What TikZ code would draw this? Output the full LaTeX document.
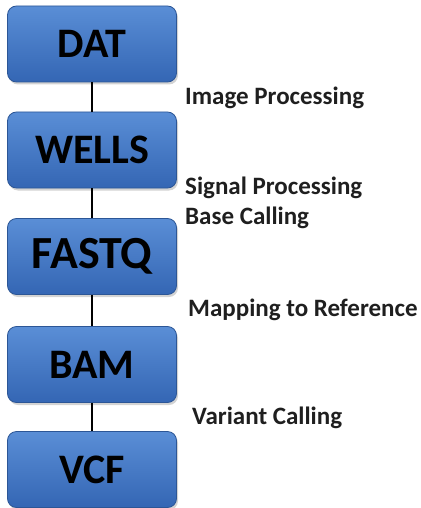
\documentclass[tikz,border=0pt]{standalone}
\usepackage{fontspec}
\setmainfont{Carlito}
\usetikzlibrary{shadows}
\definecolor{boxtop}{RGB}{90,142,214}
\definecolor{boxbot}{RGB}{52,102,180}
\definecolor{boxedge}{RGB}{44,86,150}
\tikzset{
  fmtbox/.style={rectangle, rounded corners=9pt, draw=boxedge, line width=0.8pt,
    top color=boxtop, bottom color=boxbot,
    minimum width=169pt, minimum height=76pt, inner sep=0pt,
    font=\fontsize{42}{42}\selectfont\bfseries, text=black,
    drop shadow={shadow xshift=1.5pt, shadow yshift=-2.5pt, opacity=0.35}},
  bigtext/.style={font=\fontsize{46}{46}\selectfont\bfseries},
  steplabel/.style={anchor=west, inner sep=0pt, align=left,
    font=\fontsize{25}{30}\selectfont\bfseries, text=black!88},
  link/.style={line width=2pt, black}
}
\begin{document}
\begin{tikzpicture}[x=1pt, y=-1pt]
  \useasboundingbox (0,0) rectangle (420,508);
  % file formats of the pipeline
  \node[fmtbox] (dat)   at (92,44)    {DAT};
  \node[fmtbox] (wells) at (92,150)   {WELLS};
  \node[fmtbox, bigtext] (fastq) at (92,256.5) {FASTQ};
  \node[fmtbox] (bam)   at (92,364.5) {BAM};
  \node[fmtbox] (vcf)   at (92,469.5) {VCF};
  % connectors between consecutive formats
  \draw[link] (dat.south)   -- (wells.north);
  \draw[link] (wells.south) -- (fastq.north);
  \draw[link] (fastq.south) -- (bam.north);
  \draw[link] (bam.south)   -- (vcf.north);
  % processing steps
  \node[steplabel] (img) at (185,98)  {Image Processing};
  \node[steplabel] (sig) at (185,203) {Signal Processing\\Base Calling};
  \node[steplabel] (map) at (188,310) {Mapping to Reference};
  \node[steplabel] (var) at (192,418) {Variant Calling};
\end{tikzpicture}
\end{document}
